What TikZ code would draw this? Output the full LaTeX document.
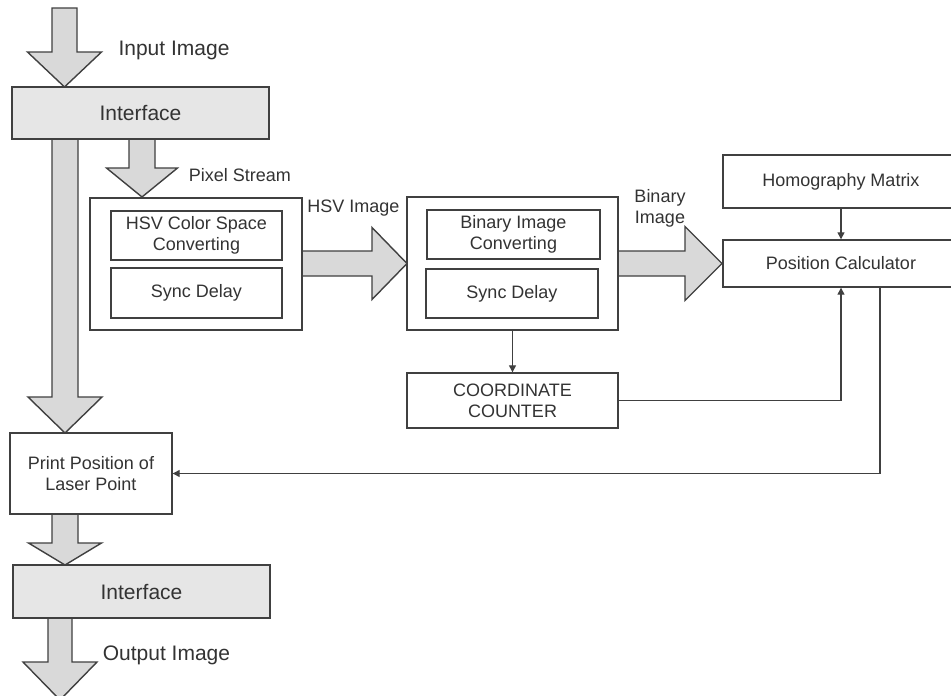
\documentclass[tikz,border=0pt]{standalone}
\usepackage{fontspec}
\setmainfont{Liberation Sans}
\usetikzlibrary{arrows.meta}
\definecolor{ln}{HTML}{404040}
\definecolor{blk}{HTML}{D9D9D9}
\definecolor{ifc}{HTML}{E6E6E6}
\definecolor{txt}{HTML}{333333}
\newcommand{\bigtxt}{\fontsize{21}{24}\selectfont}
\newcommand{\smalltxt}{\fontsize{18}{21}\selectfont}
% down block arrow: cx, shaft half, head half, ytop, yhead, ytip
\newcommand{\blockdown}[6]{%
  \draw[blockarr] (#1-#2,#4) -- (#1+#2,#4) -- (#1+#2,#5) -- (#1+#3,#5) -- (#1,#6)
    -- (#1-#3,#5) -- (#1-#2,#5) -- cycle;}
% right block arrow: cy, shaft half, head half, xleft, xhead, xtip
\newcommand{\blockright}[6]{%
  \draw[blockarr] (#4,#1-#2) -- (#4,#1+#2) -- (#5,#1+#2) -- (#5,#1+#3) -- (#6,#1)
    -- (#5,#1-#3) -- (#5,#1-#2) -- cycle;}
\tikzset{
  box/.style={draw=ln, line width=1.4pt, fill=white, text=txt, align=center,
    inner sep=0pt, font=\smalltxt},
  ifbox/.style={box, fill=ifc, font=\bigtxt},
  blockarr/.style={draw=ln, line width=1.4pt, fill=blk, line join=miter},
  conn/.style={draw=ln, line width=1.3pt, -{Triangle[length=7pt,width=7pt]}},
  lbl/.style={text=txt, inner sep=0pt, align=center}
}
\begin{document}
\begin{tikzpicture}[x=1pt,y=-1pt]
\useasboundingbox (0,0) rectangle (951,696);
\clip (0,0) rectangle (951,696);
\fill[white] (0,0) rectangle (951,696);

% block arrows (drawn first)
\blockdown{64.5}{12.5}{37}{8}{52}{87}
\blockdown{65}{13}{37}{139}{397}{433}
\blockdown{142}{13}{35.5}{139}{168}{197}
\blockdown{65}{13}{36.5}{514}{543}{565}
\blockdown{60}{12}{37}{618}{662}{700}
\blockright{263.5}{12.5}{36}{302}{372}{407}
\blockright{263.5}{12.5}{37}{618}{685}{722}

% nodes
\node[ifbox, minimum width=257pt, minimum height=52pt] (iface1) at (140.5,113) {Interface};
\node[box, minimum width=212pt, minimum height=132pt] (hsvouter) at (196,264) {};
\node[box, minimum width=171pt, minimum height=49pt] (hsvconv) at (196.5,235.5) {HSV Color Space\\Converting};
\node[box, minimum width=171pt, minimum height=50pt] (hsvsync) at (196.5,293) {Sync Delay};
\node[box, minimum width=211pt, minimum height=133pt] (binouter) at (512.5,263.5) {};
\node[box, minimum width=173pt, minimum height=49pt] (binconv) at (513.5,234.5) {Binary Image\\Converting};
\node[box, minimum width=172pt, minimum height=49pt] (binsync) at (512,293.5) {Sync Delay};
\node[box, minimum width=211pt, minimum height=55pt] (coord) at (512.5,400.5) {COORDINATE\\COUNTER};
\node[box, minimum width=236pt, minimum height=53pt] (homog) at (841,181.5) {Homography Matrix};
\node[box, minimum width=236pt, minimum height=47pt] (poscalc) at (841,263.5) {Position Calculator};
\node[box, minimum width=162pt, minimum height=81pt] (print) at (91,473.5) {Print Position of\\Laser Point};
\node[ifbox, minimum width=257pt, minimum height=53pt] (iface2) at (141.5,591.5) {Interface};

% labels
\node[lbl, font=\bigtxt] (linput) at (174,50) {Input Image};
\node[lbl, font=\smalltxt] (lpixel) at (240,175) {Pixel Stream};
\node[lbl, font=\smalltxt] (lhsv) at (353.5,208) {HSV Image};
\node[lbl, font=\smalltxt] (lbin) at (660,208) {Binary\\Image};
\node[lbl, font=\bigtxt] (loutput) at (166.5,655) {Output Image};

% connectors
\coordinate (hbot) at (841,208);
\draw[conn] (homog.south -| hbot) -- (poscalc.north -| hbot);
\draw[conn] (binouter.south) -- (coord.north);
\coordinate (upx) at (841,400);
\draw[conn] (coord.east) -- (coord.east -| upx) -- (poscalc.south -| upx);
\coordinate (dnx) at (880,473.5);
\draw[conn] (poscalc.south -| dnx) -- (dnx) -- (print.east);
\end{tikzpicture}
\end{document}
